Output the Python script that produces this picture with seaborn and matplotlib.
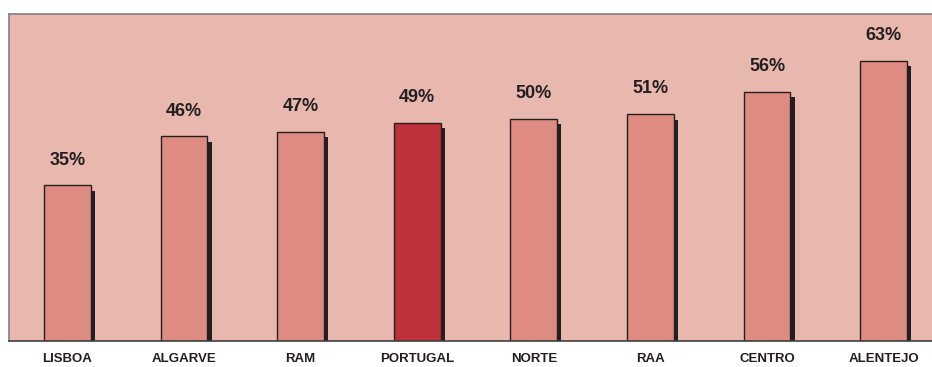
import matplotlib
matplotlib.use("Agg")
import matplotlib.pyplot as plt
import matplotlib.patheffects as pe
import seaborn as sns
import pandas as pd

regions = ["LISBOA", "ALGARVE", "RAM", "PORTUGAL", "NORTE", "RAA", "CENTRO", "ALENTEJO"]
values = [35, 46, 47, 49, 50, 51, 56, 63]
labels = ["35%", "46%", "47%", "49%", "50%", "51%", "56%", "63%"]

bar_color = "#DE8C82"
highlight_color = "#C0303A"
bg_color = "#E8B8AE"
dark = "#231F20"

df = pd.DataFrame({"region": regions, "value": values})
palette = {r: (highlight_color if r == "PORTUGAL" else bar_color) for r in regions}

sns.set_theme(style="white")
plt.rcParams["font.family"] = ["Liberation Sans", "DejaVu Sans"]

fig = plt.figure(figsize=(9.32, 3.67), dpi=100)
ax = fig.add_axes([9 / 932, 26 / 367, 933 / 932, 327 / 367])
ax.set_facecolor(bg_color)

sns.barplot(data=df, x="region", y="value", hue="region", palette=palette,
            order=regions, hue_order=regions, width=0.40, legend=False,
            edgecolor=dark, linewidth=1.0, saturation=1, ax=ax)

# drop shadow to the lower right of each bar
for patch in ax.patches:
    patch.set_path_effects([
        pe.SimplePatchShadow(offset=(3.1, -3.9), shadow_rgbFace=dark, alpha=1.0),
        pe.Normal(),
    ])

for i, (v, t) in enumerate(zip(values, labels)):
    ax.annotate(t, xy=(i, v), xytext=(0, 12), textcoords="offset points",
                ha="center", va="bottom", fontsize=13, fontweight="bold",
                color=dark)

ax.set_xlim(-0.5, 7.5)
ax.set_ylim(0, 73.5)
ax.set_xlabel("")
ax.set_ylabel("")
ax.set_yticks([])
ax.tick_params(axis="x", length=0, pad=9)
for lab in ax.get_xticklabels():
    lab.set_fontsize(9.5)
    lab.set_fontweight("bold")
    lab.set_color(dark)

for side in ["top", "left", "right"]:
    ax.spines[side].set_color("#808080")
    ax.spines[side].set_linewidth(1.2)
ax.spines["bottom"].set_color("#404040")
ax.spines["bottom"].set_linewidth(1.2)

fig.savefig("out.png", dpi=100, facecolor="white")
